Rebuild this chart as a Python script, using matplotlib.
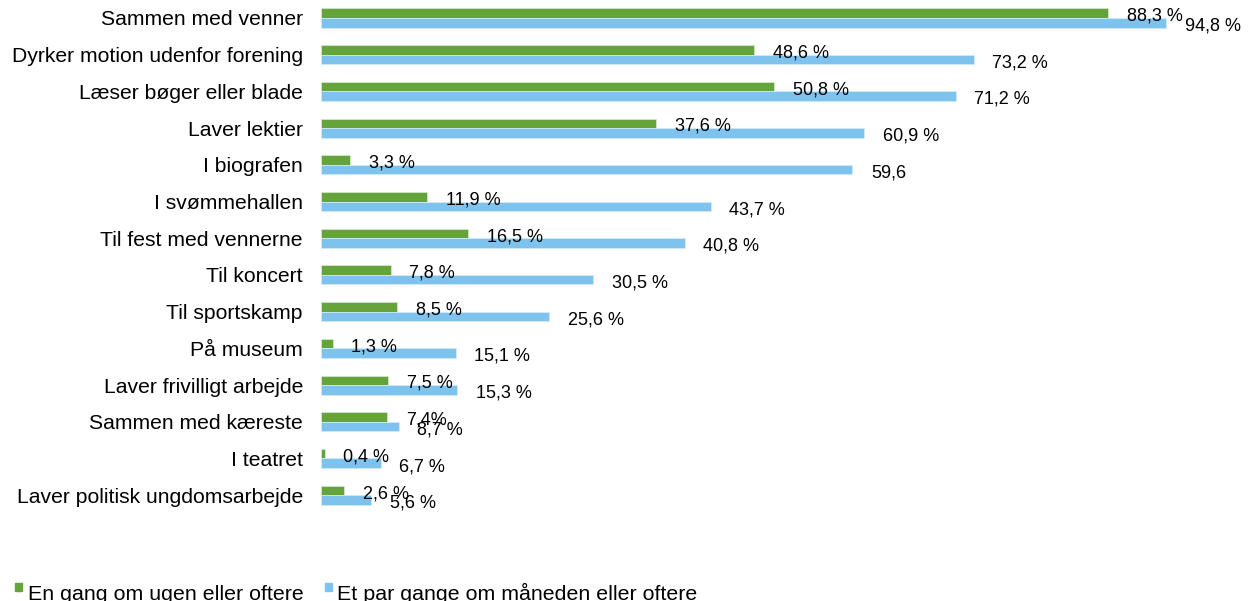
import matplotlib
matplotlib.use("Agg")
from matplotlib import pyplot as plt
from matplotlib.patches import Rectangle

plt.rcParams['font.family'] = ['Liberation Sans', 'DejaVu Sans']

kategorier = ["Sammen med venner", "Dyrker motion udenfor forening", "Læser bøger eller blade",
              "Laver lektier", "I biografen", "I svømmehallen", "Til fest med vennerne",
              "Til koncert", "Til sportskamp", "På museum", "Laver frivilligt arbejde",
              "Sammen med kæreste", "I teatret", "Laver politisk ungdomsarbejde"]
ugentlig = [88.3, 48.6, 50.8, 37.6, 3.3, 11.9, 16.5, 7.8, 8.5, 1.3, 7.5, 7.4, 0.4, 2.6]
maanedlig = [94.8, 73.2, 71.2, 60.9, 59.6, 43.7, 40.8, 30.5, 25.6, 15.1, 15.3, 8.7, 6.7, 5.6]
labels_ugentlig = ["88,3 %", "48,6 %", "50,8 %", "37,6 %", "3,3 %", "11,9 %", "16,5 %",
                   "7,8 %", "8,5 %", "1,3 %", "7,5 %", "7,4%", "0,4 %", "2,6 %"]
labels_maanedlig = ["94,8 %", "73,2 %", "71,2 %", "60,9 %", "59,6", "43,7 %", "40,8 %",
                    "30,5 %", "25,6 %", "15,1 %", "15,3 %", "8,7 %", "6,7 %", "5,6 %"]
serier = ["En gang om ugen eller oftere", "Et par gange om måneden eller oftere"]

GRON = "#65a33b"
BLA = "#7dc3ee"
W, H = 1248, 601

fig = plt.figure(figsize=(W / 100, H / 100), dpi=100)
ax = fig.add_axes([321 / W, 1 - 515 / H, (1230 - 321) / W, 515 / H])

pos = list(range(len(kategorier)))
h = 0.26
ax.barh([p - h / 2 for p in pos], ugentlig, height=h, color=GRON, edgecolor="#d9ead0", linewidth=0.5)
ax.barh([p + h / 2 for p in pos], maanedlig, height=h, color=BLA, edgecolor="#d6ecf9", linewidth=0.5)

for p, v, s in zip(pos, ugentlig, labels_ugentlig):
    ax.annotate(s, (v, p), xytext=(13.5, 1.2), textcoords="offset points",
                ha="left", va="center", fontsize=13)
for p, v, s in zip(pos, maanedlig, labels_maanedlig):
    ax.annotate(s, (v, p), xytext=(13.5, -5.8), textcoords="offset points",
                ha="left", va="center", fontsize=13)

ax.set_xlim(0, (1230 - 321) / 8.914)
ax.set_ylim(13.54, -0.49)
ax.set_yticks(pos)
ax.set_yticklabels(kategorier, fontsize=15.2)
ax.tick_params(axis="y", length=0, pad=13)
ax.set_xticks([])
for sp in ax.spines.values():
    sp.set_visible(False)

# legende nederst
for x_sq, x_txt, farve, navn in [(15, 28, GRON, serier[0]), (325, 337, BLA, serier[1])]:
    fig.patches.append(Rectangle((x_sq / W, 1 - 591 / H), 7 / W, 8 / H, color=farve,
                                 transform=fig.transFigure))
    fig.text(x_txt / W, 1 - 600 / H, navn, fontsize=15.4, ha="left", va="baseline")

fig.savefig("out.png", dpi=100)
